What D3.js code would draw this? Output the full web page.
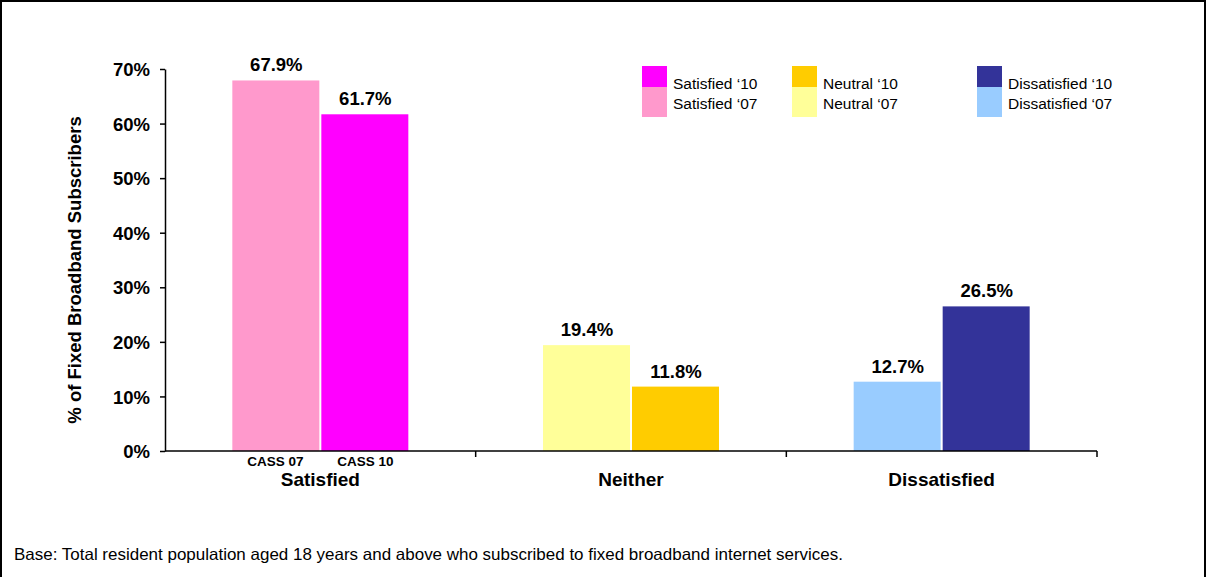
<!DOCTYPE html>
<html><head><meta charset="utf-8">
<script src="https://cdn.jsdelivr.net/npm/d3@7"></script>
<style>body{margin:0;background:#fff}svg{display:block}text{font-family:Arial,"Liberation Sans",sans-serif}</style>
</head><body>
<script>
const categories = ["Satisfied", "Neither", "Dissatisfied"];
const surveys = ["CASS 07", "CASS 10"];
const values07 = [67.9, 19.4, 12.7];
const values10 = [61.7, 11.8, 26.5];
const colors07 = ["#FF99CC", "#FFFF99", "#99CCFF"];
const colors10 = ["#FF00FF", "#FFCC00", "#333399"];
const legendLabels10 = ["Satisfied \u201810", "Neutral \u201810", "Dissatisfied \u201810"];
const legendLabels07 = ["Satisfied \u201807", "Neutral \u201807", "Dissatisfied \u201807"];
const yTicks = [0, 10, 20, 30, 40, 50, 60, 70];

const W = 1206, H = 577;
const svg = d3.select("body").append("svg").attr("width", W).attr("height", H);
svg.append("rect").attr("x", 1).attr("y", 1).attr("width", W - 2).attr("height", H + 5)
  .attr("fill", "#fff").attr("stroke", "#000").attr("stroke-width", 2);

const x0 = 165, x1 = 1097, yTop = 69, yBot = 451;
const x = d3.scaleBand().domain(categories).range([x0, x1]).paddingInner(0).paddingOuter(0);
const y = d3.scaleLinear().domain([0, 70]).range([yBot, yTop]);
const barW = 88;

// y axis
const yAxis = svg.append("g").attr("transform", `translate(${x0},0)`)
  .call(d3.axisLeft(y).tickValues(yTicks).tickFormat(d => d + "%").tickSize(5).tickSizeOuter(0));
yAxis.select(".domain").attr("stroke", "#000").attr("stroke-width", 1.5);
yAxis.selectAll(".tick line").attr("stroke", "#000").attr("stroke-width", 1.5);
yAxis.selectAll(".tick text").attr("font-size", 18.5).attr("font-weight", "bold").attr("fill", "#000")
  .attr("font-family", "Arial, 'Liberation Sans', sans-serif").attr("x", -15).attr("dy", "0.36em");

// bars
const g = svg.append("g");
categories.forEach((c, i) => {
  const cx = x(c) + x.bandwidth() / 2;
  const data = [{v: values07[i], col: colors07[i], xs: cx - barW}, {v: values10[i], col: colors10[i], xs: cx + 1}];
  data.forEach(d => {
    g.append("rect").attr("x", d.xs).attr("y", y(d.v)).attr("width", barW - 1).attr("height", yBot - y(d.v))
      .attr("fill", d.col);
    g.append("text").attr("x", d.xs + barW / 2).attr("y", y(d.v) - 9).attr("text-anchor", "middle")
      .attr("font-size", 18.5).attr("font-weight", "bold").text(d.v.toFixed(1) + "%");
  });
});

// x axis
const xAxis = svg.append("g").attr("transform", `translate(0,${yBot})`);
xAxis.append("line").attr("x1", x0).attr("x2", x1).attr("stroke", "#000").attr("stroke-width", 1.5);
categories.forEach((c, i) => {
  const xr = x(c) + x.bandwidth();
  xAxis.append("line").attr("x1", xr).attr("x2", xr).attr("y1", 0).attr("y2", 6).attr("stroke", "#000").attr("stroke-width", 1.5);
  xAxis.append("text").attr("x", x(c) + x.bandwidth() / 2).attr("y", 35).attr("text-anchor", "middle")
    .attr("font-size", 19).attr("font-weight", "bold").text(c);
});
// sub labels under first group
const c0 = x(categories[0]) + x.bandwidth() / 2;
surveys.forEach((s, j) => {
  svg.append("text").attr("x", c0 + (j === 0 ? -barW / 2 - 1 : barW / 2 + 1)).attr("y", yBot + 15)
    .attr("text-anchor", "middle").attr("font-size", 13.5).attr("font-weight", "bold").text(s);
});

// y title
svg.append("text").attr("transform", `translate(81,${270}) rotate(-90)`)
  .attr("text-anchor", "middle").attr("font-size", 18.5).attr("font-weight", "bold")
  .text("% of Fixed Broadband Subscribers");

// legend
const legX = [642, 792, 977];
legX.forEach((lx, i) => {
  svg.append("rect").attr("x", lx).attr("y", 66).attr("width", 25).attr("height", 21).attr("fill", colors10[i]);
  svg.append("rect").attr("x", lx).attr("y", 87).attr("width", 25).attr("height", 30).attr("fill", colors07[i]);
  svg.append("text").attr("x", lx + 31).attr("y", 89).attr("font-size", 15.5).text(legendLabels10[i]);
  svg.append("text").attr("x", lx + 31).attr("y", 109).attr("font-size", 15.5).text(legendLabels07[i]);
});

// footnote
svg.append("text").attr("x", 14).attr("y", 560).attr("font-size", 16.5)
  .attr("textLength", 829).attr("lengthAdjust", "spacingAndGlyphs")
  .text("Base: Total resident population aged 18 years and above who subscribed to fixed broadband internet services.");
</script>
</body></html>
